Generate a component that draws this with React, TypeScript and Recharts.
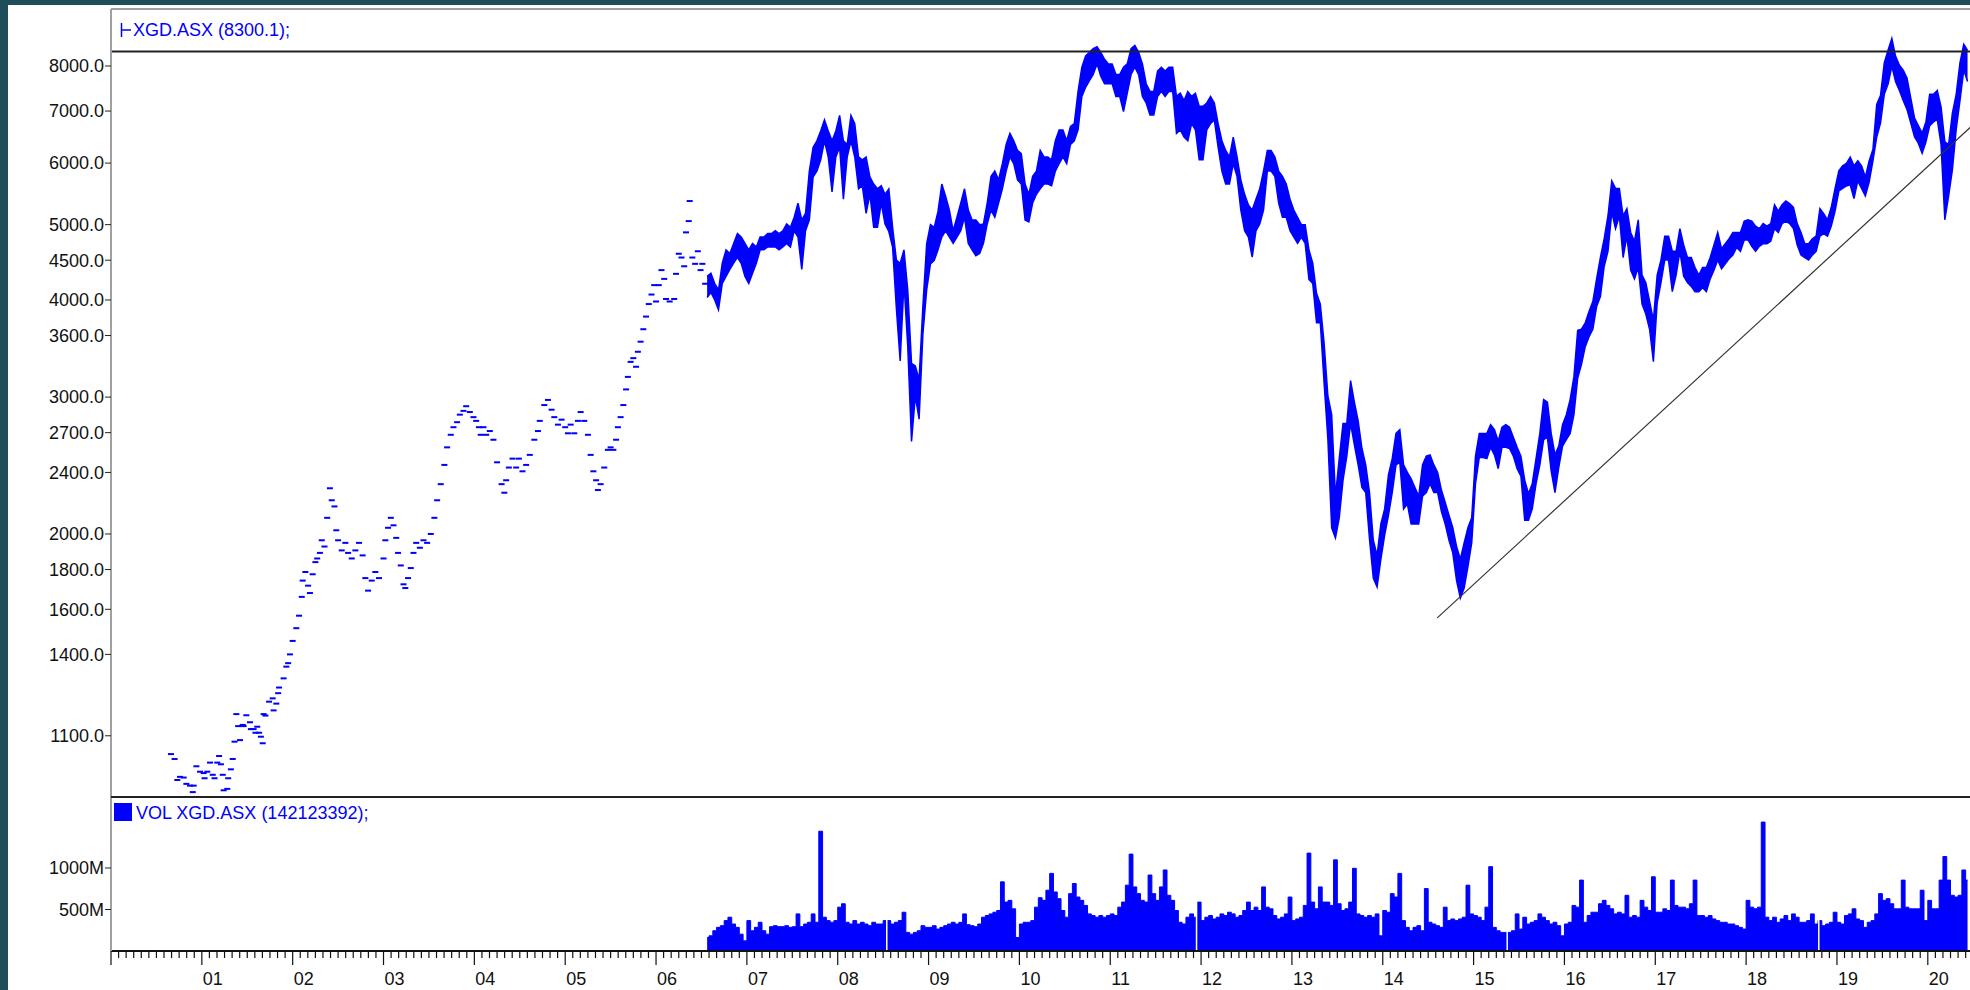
import React from 'react';
import { ComposedChart, Area, Scatter, XAxis, YAxis, ReferenceLine } from 'recharts';

// early part of the history: only closes, drawn as short dashes [fractional year, close]
const early2000: [number, number][] = [
  [2000.66, 1042], [2000.70, 1027], [2000.73, 965], [2000.76, 974], [2000.80, 972], [2000.83, 954],
  [2000.87, 949], [2000.90, 931], [2000.91, 949], [2000.94, 1005], [2000.98, 989],
];
const early2001: [number, number][] = [
  [2001.02, 985], [2001.03, 970], [2001.06, 989], [2001.09, 1016], [2001.12, 980], [2001.14, 970],
  [2001.17, 1016], [2001.19, 1036], [2001.21, 1011], [2001.23, 980], [2001.24, 936], [2001.28, 940],
  [2001.29, 970], [2001.32, 996], [2001.34, 1027], [2001.36, 1081], [2001.38, 1173], [2001.40, 1132],
  [2001.42, 1086], [2001.45, 1136], [2001.46, 1132], [2001.49, 1169], [2001.53, 1145], [2001.54, 1122],
  [2001.57, 1122], [2001.59, 1110], [2001.61, 1130], [2001.63, 1110], [2001.65, 1097], [2001.67, 1076],
  [2001.68, 1173], [2001.70, 1168], [2001.74, 1217], [2001.78, 1229], [2001.79, 1186], [2001.82, 1210],
  [2001.84, 1248], [2001.85, 1269], [2001.90, 1304], [2001.93, 1350], [2001.95, 1364], [2001.97, 1400],
];
const early2002: [number, number][] = [
  [2002.00, 1457], [2002.04, 1513], [2002.07, 1570], [2002.10, 1660], [2002.11, 1742], [2002.14, 1787],
  [2002.17, 1716], [2002.19, 1679], [2002.22, 1775], [2002.25, 1840], [2002.27, 1860], [2002.30, 1891],
  [2002.32, 1963], [2002.35, 1927], [2002.38, 2098], [2002.41, 2290], [2002.43, 2210], [2002.46, 2170],
  [2002.48, 2022], [2002.50, 1963], [2002.54, 1905], [2002.58, 1948], [2002.61, 1891], [2002.65, 1860],
  [2002.69, 1905], [2002.73, 1948], [2002.77, 1877], [2002.80, 1755], [2002.83, 1691], [2002.87, 1742],
  [2002.91, 1787], [2002.95, 1755],
];
const early2003: [number, number][] = [
  [2003.00, 1860], [2003.02, 1963], [2003.05, 2037], [2003.08, 2098], [2003.11, 2052], [2003.14, 1977],
  [2003.16, 1891], [2003.19, 1822], [2003.22, 1723], [2003.24, 1704], [2003.27, 1755], [2003.30, 1808],
  [2003.33, 1891], [2003.36, 1948], [2003.40, 1920], [2003.44, 1963], [2003.48, 1948], [2003.52, 2000],
  [2003.56, 2098], [2003.59, 2210], [2003.63, 2318], [2003.67, 2454], [2003.70, 2585], [2003.74, 2683],
  [2003.77, 2744], [2003.81, 2785], [2003.84, 2848], [2003.88, 2880], [2003.91, 2920], [2003.95, 2870],
  [2003.99, 2827],
];
const early2004: [number, number][] = [
  [2004.02, 2796], [2004.05, 2744], [2004.07, 2683], [2004.10, 2744], [2004.13, 2683], [2004.17, 2713],
  [2004.21, 2644], [2004.25, 2473], [2004.30, 2318], [2004.33, 2260], [2004.35, 2345], [2004.38, 2435],
  [2004.42, 2500], [2004.46, 2435], [2004.49, 2500], [2004.53, 2408], [2004.57, 2454], [2004.61, 2528],
  [2004.66, 2644], [2004.70, 2713], [2004.72, 2796], [2004.77, 2930], [2004.81, 2975], [2004.85, 2890],
  [2004.88, 2827], [2004.92, 2765], [2004.96, 2806],
];
const early2005: [number, number][] = [
  [2005.00, 2744], [2005.03, 2695], [2005.06, 2765], [2005.10, 2695], [2005.14, 2796], [2005.17, 2870],
  [2005.21, 2796], [2005.25, 2683], [2005.28, 2528], [2005.31, 2408], [2005.34, 2345], [2005.36, 2278],
  [2005.39, 2318], [2005.43, 2435], [2005.47, 2566], [2005.50, 2585], [2005.53, 2566], [2005.56, 2644],
  [2005.58, 2744], [2005.61, 2827], [2005.64, 2930], [2005.67, 3069], [2005.69, 3185], [2005.72, 3330],
  [2005.75, 3367], [2005.78, 3282], [2005.80, 3431], [2005.83, 3535], [2005.86, 3668], [2005.89, 3808],
  [2005.92, 3952], [2005.95, 4065], [2005.98, 4180],
];
const early2006: [number, number][] = [
  [2006.00, 3982], [2006.03, 4180], [2006.06, 4370], [2006.09, 4258], [2006.11, 4012], [2006.15, 3982],
  [2006.20, 4012], [2006.22, 4322], [2006.25, 4587], [2006.28, 4536], [2006.31, 4420], [2006.33, 4887],
  [2006.36, 5053], [2006.37, 5362], [2006.40, 4536], [2006.43, 4452], [2006.46, 4621], [2006.49, 4370],
  [2006.51, 4452], [2006.54, 4197],
];

// daily section, one [low, high] pair per half month. 2006 starts at half-month 13.
const band2006 = [[4030, 4290], [4090, 4330], [4000, 4200], [3885, 4120], [4200, 4460], [4290, 4640], [4380, 4590], [4460, 4730], [4540, 4870], [4460, 4820], [4290, 4730]];
const band2007 = [[4200, 4640], [4330, 4730], [4460, 4680], [4640, 4820], [4640, 4820], [4680, 4870], [4680, 4870], [4680, 4910], [4640, 4870], [4680, 4910], [4730, 5010], [4680, 4960], [4910, 5110], [4820, 5330], [4380, 5070], [4910, 5170], [5070, 5860], [5760, 6290], [5860, 6410], [6060, 6600], [6410, 6820], [6110, 6600], [5510, 6410], [6110, 6600]];
const band2008 = [[6290, 6910], [5390, 6410], [6110, 6340], [6410, 6910], [6110, 6745], [5560, 6110], [5610, 6060], [5170, 6110], [5470, 5760], [4960, 5640], [4960, 5560], [5330, 5610], [5010, 5470], [4900, 5560], [4680, 4960], [3900, 4502], [3340, 4460], [4211, 4640], [3490, 4120], [2630, 3315], [3010, 3290], [2810, 3160], [3614, 3923], [4120, 4725]];
const band2009 = [[4450, 5000], [4500, 4960], [4640, 5200], [4820, 5640], [4910, 5440], [4820, 5220], [4730, 4910], [4820, 5110], [4910, 5330], [5110, 5560], [4730, 5220], [4640, 5070], [4560, 5070], [4590, 5000], [4730, 5010], [5010, 5330], [5220, 5770], [5110, 5860], [5330, 5710], [5560, 5990], [5860, 6340], [6110, 6550], [5990, 6410], [5710, 6230]];
const band2010 = [[5640, 6170], [5070, 5640], [5040, 5470], [5330, 5770], [5470, 5860], [5560, 6230], [5640, 6110], [5640, 6110], [5610, 6060], [5860, 6410], [5990, 6620], [6110, 6620], [5990, 6410], [6340, 6690], [6410, 6745], [6620, 7420], [7310, 7970], [7510, 8240], [7660, 8330], [7800, 8420], [8050, 8470], [7760, 8330], [7590, 8160], [7590, 8050]];
const band2011 = [[7590, 8050], [7310, 7800], [7310, 7800], [6990, 7970], [7380, 8050], [7800, 8420], [7970, 8500], [7800, 8330], [7310, 8050], [7170, 7590], [6920, 7420], [6920, 7420], [7310, 7880], [7420, 7970], [7310, 7880], [7420, 7970], [7420, 7970], [6550, 7310], [6620, 7380], [6480, 7220], [6410, 7420], [6745, 7310], [6620, 7380], [6060, 7100]];
const band2012 = [[6060, 7100], [6620, 7170], [6745, 7310], [6820, 7170], [6290, 6745], [5860, 6410], [5640, 6230], [5640, 6110], [5990, 6480], [5770, 6110], [5220, 5710], [4910, 5470], [4820, 5300], [4540, 5220], [4910, 5390], [5010, 5560], [5220, 5860], [5860, 6230], [5860, 6230], [5770, 6110], [5330, 5860], [5110, 5770], [5110, 5640], [4910, 5390]];
const band2013 = [[4820, 5220], [4730, 5110], [4820, 5000], [4730, 5000], [4250, 4640], [4200, 4460], [3740, 4080], [3740, 3950], [3130, 3520], [2650, 3010], [2037, 2848], [1977, 2236], [2098, 2500], [2346, 2775], [2519, 2775], [2775, 3150], [2605, 2956], [2454, 2796], [2295, 2576], [2261, 2454], [1970, 2261], [1755, 1963], [1710, 1877], [1856, 2060]];
const band2014 = [[1993, 2154], [2114, 2382], [2261, 2500], [2454, 2694], [2473, 2724], [2154, 2454], [2186, 2400], [2060, 2355], [2060, 2295], [2060, 2236], [2236, 2454], [2261, 2519], [2321, 2528], [2261, 2454], [2261, 2400], [2138, 2278], [2060, 2195], [1963, 2114], [1891, 2037], [1742, 1927], [1654, 1856], [1704, 1948], [1815, 2037], [1948, 2098]];
const band2015 = [[2321, 2519], [2509, 2694], [2509, 2694], [2500, 2694], [2585, 2765], [2528, 2724], [2427, 2634], [2585, 2744], [2585, 2765], [2576, 2744], [2519, 2664], [2427, 2585], [2373, 2519], [2083, 2346], [2083, 2253], [2154, 2321], [2321, 2500], [2454, 2694], [2644, 2978], [2664, 2956], [2409, 2694], [2261, 2528], [2436, 2595], [2595, 2765]];
const band2016 = [[2644, 2848], [2694, 2978], [2848, 3185], [3173, 3655], [3306, 3668], [3483, 3738], [3588, 3866], [3668, 3982], [3923, 4258], [4042, 4536], [4420, 4796], [4621, 5130], [5186, 5691], [4941, 5566], [5130, 5566], [4536, 5130], [4832, 5244], [4370, 4886], [4258, 4760], [4403, 5072], [3952, 4306], [3837, 4211], [3668, 3982], [3331, 3766]];
const band2017 = [[3967, 4306], [4211, 4502], [4502, 4832], [4502, 4832], [4100, 4621], [4306, 4621], [4621, 4941], [4290, 4708], [4211, 4536], [4164, 4536], [4100, 4403], [4100, 4306], [4148, 4403], [4100, 4403], [4258, 4536], [4370, 4708], [4502, 4886], [4387, 4655], [4452, 4725], [4519, 4796], [4570, 4886], [4674, 4886], [4621, 4886], [4778, 5053]];
const band2018 = [[4778, 5072], [4690, 5053], [4621, 4978], [4690, 4941], [4725, 5015], [4725, 4978], [4760, 5015], [4941, 5303], [4886, 5205], [5015, 5303], [5053, 5362], [5015, 5323], [4941, 5263], [4708, 5015], [4570, 4886], [4536, 4725], [4502, 4725], [4570, 4796], [4621, 4832], [4832, 5244], [4868, 5167], [4832, 5072], [4978, 5263], [5205, 5566]];
const band2019 = [[5524, 5863], [5566, 5951], [5607, 5996], [5628, 6108], [5403, 5951], [5691, 6040], [5566, 5951], [5443, 5756], [5670, 6040], [6040, 6247], [6482, 7141], [6754, 7327], [7355, 8075], [7581, 8381], [7990, 8680], [7635, 8230], [7438, 8018], [7221, 7900], [7036, 7722], [6754, 7274], [6482, 6855], [6364, 6703], [6177, 6556], [6388, 6778]];
const band2020 = [[6703, 7355], [6778, 7355], [6830, 7438], [6340, 7088], [5072, 6388], [5443, 6340], [5885, 6957], [6629, 7355], [7221, 8075], [7909, 8530], [7640, 8380]];

// volume in millions, one value per half month, same start as the bands
const vol2006 = [163, 183, 244, 285, 305, 366, 407, 325, 285, 203, 122];
const vol2007 = [366, 244, 285, 346, 244, 203, 293, 305, 293, 293, 305, 285, 293, 447, 293, 325, 346, 447, 346, 1443, 407, 366, 346, 366];
const vol2008 = [528, 569, 346, 325, 366, 325, 346, 325, 305, 346, 325, 325, 366, 366, 325, 346, 366, 467, 224, 203, 224, 244, 305, 285];
const vol2009 = [285, 305, 264, 285, 305, 325, 346, 325, 346, 447, 317, 305, 293, 325, 407, 427, 447, 467, 488, 833, 589, 610, 508, 163];
const vol2010 = [325, 346, 346, 366, 528, 642, 610, 732, 935, 711, 630, 488, 407, 691, 813, 650, 610, 549, 447, 427, 407, 427, 407, 427];
const vol2011 = [447, 427, 528, 589, 793, 1167, 772, 691, 610, 589, 915, 691, 610, 772, 976, 671, 610, 488, 346, 325, 407, 447, 407, 589];
const vol2012 = [366, 407, 427, 386, 407, 447, 427, 467, 447, 407, 427, 488, 589, 488, 528, 488, 772, 528, 508, 427, 386, 407, 447, 650];
const vol2013 = [366, 386, 407, 549, 1179, 589, 508, 772, 589, 589, 549, 1098, 569, 488, 508, 589, 996, 447, 427, 407, 427, 407, 447, 183];
const vol2014 = [488, 467, 691, 650, 935, 366, 285, 244, 285, 305, 244, 752, 346, 325, 305, 285, 528, 366, 386, 366, 386, 407, 793, 447];
const vol2015 = [427, 407, 366, 528, 1016, 285, 244, 224, 224, 224, 244, 447, 264, 407, 325, 346, 366, 447, 407, 366, 325, 346, 305, 183];
const vol2016 = [325, 346, 549, 528, 854, 346, 427, 467, 467, 569, 610, 549, 508, 447, 467, 447, 671, 407, 427, 407, 610, 528, 488, 894];
const vol2017 = [467, 467, 508, 488, 854, 549, 528, 528, 508, 569, 854, 427, 427, 407, 427, 386, 366, 346, 346, 325, 325, 305, 285, 264];
const vol2018 = [610, 528, 508, 528, 1553, 407, 366, 407, 346, 386, 427, 366, 447, 407, 346, 346, 366, 447, 325, 366, 305, 325, 346, 467];
const vol2019 = [346, 325, 427, 447, 508, 386, 366, 285, 346, 366, 447, 691, 610, 630, 569, 508, 508, 854, 528, 508, 508, 508, 732, 366];
const vol2020 = [610, 508, 508, 854, 1138, 854, 671, 650, 671, 976, 854];

const priceTicks = [1100, 1400, 1600, 1800, 2000, 2400, 2700, 3000, 3600, 4000, 4500, 5000, 6000, 7000, 8000];
const volumeTicks = [500, 1000];
const resistanceLevel = 8350;
const trendLine = [{ x: 2014.6, y: 1560 }, { x: 2020.57, y: 6840 }];
const volumeGaps = [2008.54, 2011.95, 2015.37, 2018.8];

const FONT = '"Liberation Sans", Arial, sans-serif';
const BLUE = '#0000ff';
const W = 1980;
const PLOT_LEFT = 111;
const PX_PER_YEAR = 90.84;
const X_END = 2000 + (W - PLOT_LEFT) / PX_PER_YEAR;

const earlyRows = [early2000, early2001, early2002, early2003, early2004, early2005, early2006]
  .flat()
  .map(([t, close]) => ({ t, close }));

const bandYears: [number, number[][]][] = [
  [2006, band2006], [2007, band2007], [2008, band2008], [2009, band2009], [2010, band2010],
  [2011, band2011], [2012, band2012], [2013, band2013], [2014, band2014], [2015, band2015],
  [2016, band2016], [2017, band2017], [2018, band2018], [2019, band2019], [2020, band2020],
];
const volYears: [number, number[]][] = [
  [2006, vol2006], [2007, vol2007], [2008, vol2008], [2009, vol2009], [2010, vol2010],
  [2011, vol2011], [2012, vol2012], [2013, vol2013], [2014, vol2014], [2015, vol2015],
  [2016, vol2016], [2017, vol2017], [2018, vol2018], [2019, vol2019], [2020, vol2020],
];
const firstHalfMonth = (year: number) => (year === 2006 ? 13 : 0);

const bandRows = bandYears.flatMap(([year, pairs]) =>
  pairs.map((range, i) => ({ t: year + (firstHalfMonth(year) + i + 0.5) / 24, range }))
);
const volRows = volYears.flatMap(([year, vals]) =>
  vals.map((v, i) => ({ t: year + (firstHalfMonth(year) + i + 0.5) / 24, v }))
);

const monthTicks = Array.from({ length: Math.floor((X_END - 2000) * 12) + 1 }, (_, k) => 2000 + k / 12);

const Dash = (props: any) => {
  const { cx, cy } = props;
  if (cx == null || cy == null) return null;
  return <rect x={cx - 3} y={cy - 1} width={6} height={2} fill={BLUE} />;
};

const MonthTick = (props: any) => {
  const { x, y, payload } = props;
  const k = Math.round((payload.value - 2000) * 12);
  const major = k % 12 === 0;
  const year = 2000 + Math.round(k / 12);
  return (
    <g>
      <line x1={x} x2={x} y1={y} y2={y + (major ? 14 : 7)} stroke="#111" strokeWidth={1.2} />
      {major && year > 2000 && (
        <text x={x + 1} y={y + 34} fontSize={18} fill="#111" fontFamily={FONT}>
          {String(year % 100).padStart(2, '0')}
        </text>
      )}
    </g>
  );
};

const tickStyle = { fill: '#111', fontSize: 18, fontFamily: FONT };

export default function App() {
  return (
    <div style={{ position: 'fixed', left: 0, top: 0, width: 1970, height: 990, overflow: 'hidden', background: '#1f4e58' }}>
      <div style={{ position: 'absolute', left: 8, top: 5, width: 1962, height: 985, background: '#fff' }} />

      <div style={{ position: 'absolute', left: 0, top: 0 }}>
        <ComposedChart width={W} height={797} data={bandRows} margin={{ top: 9, right: 0, bottom: 0, left: 8 }}>
          <XAxis type="number" dataKey="t" domain={[2000, X_END]} allowDataOverflow hide />
          <YAxis
            scale="log"
            domain={[917.6, 9471]}
            allowDataOverflow
            ticks={priceTicks}
            interval={0}
            width={103}
            tickSize={6}
            tickMargin={1}
            tickFormatter={(v: number) => v.toFixed(1)}
            axisLine={{ stroke: '#a0a0a0', strokeWidth: 2 }}
            tickLine={{ stroke: '#222' }}
            tick={tickStyle}
          />
          <Area
            dataKey="range"
            type="linear"
            stroke={BLUE}
            strokeWidth={1.5}
            fill={BLUE}
            fillOpacity={1}
            dot={false}
            activeDot={false}
            isAnimationActive={false}
          />
          <Scatter data={earlyRows} dataKey="close" shape={Dash} isAnimationActive={false} />
          <ReferenceLine y={resistanceLevel} stroke="#222" strokeWidth={2} />
          <ReferenceLine segment={trendLine} stroke="#333" strokeWidth={1.2} />
        </ComposedChart>
      </div>

      <div style={{ position: 'absolute', left: 0, top: 797 }}>
        <ComposedChart width={W} height={194} data={volRows} margin={{ top: 0, right: 0, bottom: 0, left: 8 }}>
          <XAxis
            type="number"
            dataKey="t"
            domain={[2000, X_END]}
            allowDataOverflow
            ticks={monthTicks}
            interval={0}
            height={40}
            tickSize={0}
            tickMargin={0}
            tickLine={false}
            axisLine={{ stroke: '#111', strokeWidth: 2 }}
            tick={<MonthTick />}
          />
          <YAxis
            domain={[0, 1855]}
            allowDataOverflow
            ticks={volumeTicks}
            interval={0}
            width={103}
            tickSize={6}
            tickMargin={1}
            tickFormatter={(v: number) => `${v}M`}
            axisLine={{ stroke: '#a0a0a0', strokeWidth: 2 }}
            tickLine={{ stroke: '#222' }}
            tick={tickStyle}
          />
          <Area
            dataKey="v"
            type="step"
            baseValue={0}
            stroke={BLUE}
            strokeWidth={1}
            fill={BLUE}
            fillOpacity={1}
            dot={false}
            activeDot={false}
            isAnimationActive={false}
          />
          {volumeGaps.map((g) => (
            <ReferenceLine key={g} x={g} stroke="#fff" strokeWidth={1.5} />
          ))}
        </ComposedChart>
      </div>

      {/* panel frame */}
      <div style={{ position: 'absolute', left: PLOT_LEFT, top: 8, width: 1970, height: 2, background: '#a0a0a0' }} />
      <div style={{ position: 'absolute', left: PLOT_LEFT, top: 796, width: 1970, height: 2, background: '#222' }} />

      {/* price title */}
      <svg style={{ position: 'absolute', left: 120, top: 23 }} width={12} height={15}>
        <line x1={1.5} x2={1.5} y1={0} y2={14} stroke={BLUE} strokeWidth={1.5} />
        <line x1={1.5} x2={11} y1={7} y2={7} stroke={BLUE} strokeWidth={1.5} />
      </svg>
      <div style={{ position: 'absolute', left: 133, top: 21, fontFamily: FONT, fontSize: 18, lineHeight: '18px', color: BLUE, whiteSpace: 'nowrap' }}>
        XGD.ASX (8300.1);
      </div>

      {/* volume title */}
      <div style={{ position: 'absolute', left: 114, top: 803, width: 18, height: 18, background: BLUE }} />
      <div style={{ position: 'absolute', left: 136, top: 804, fontFamily: FONT, fontSize: 18, lineHeight: '18px', color: BLUE, whiteSpace: 'nowrap' }}>
        VOL XGD.ASX (142123392);
      </div>
    </div>
  );
}
